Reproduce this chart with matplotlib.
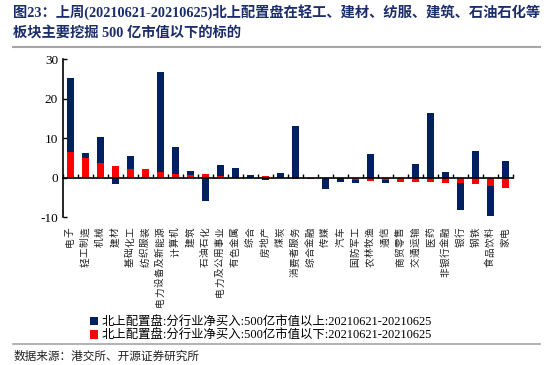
import numpy as np
import matplotlib.pyplot as plt
from matplotlib.lines import Line2D
from matplotlib.patches import Patch

CJK = ['Liberation Serif', 'Noto Sans CJK SC']

cats = ['电子', '轻工制造', '机械', '建材', '基础化工', '纺织服装', '电力设备及新能源',
        '计算机', '建筑', '石油石化', '电力及公用事业', '有色金属', '综合', '房地产',
        '煤炭', '消费者服务', '综合金融', '传媒', '汽车', '国防军工', '农林牧渔', '通信',
        '商贸零售', '交通运输', '医药', '非银行金融', '银行', '钢铁', '食品饮料', '家电']

# 500亿市值以下 (red)
small = [6.6, 5.1, 3.6, 3.0, 2.1, 2.2, 1.4, 0.9, 0.8, 0.9, 0.4, 0.0, 0.0, 0.3,
         0.0, -0.3, -0.3, 0.0, 0.0, -0.6, -0.9, -0.7, -1.2, -1.2, -1.2, -1.45,
         -1.4, -1.7, -2.0, -2.6]
# 500亿市值以上 (navy)
big = [18.7, 1.1, 6.8, -1.7, 3.5, 0.1, 25.4, 6.8, 0.8, -5.9, 2.8, 2.4, 0.7, -0.5,
       1.1, 13.2, 0.0, -2.9, -1.2, -0.8, 6.0, -0.6, 0.0, 3.4, 16.4, 1.4,
       -6.7, 6.8, -7.7, 4.1]

legend_labels = ['北上配置盘:分行业净买入:500亿市值以上:20210621-20210625',
                 '北上配置盘:分行业净买入:500亿市值以下:20210621-20210625']
title1 = '图23：上周(20210621-20210625)北上配置盘在轻工、建材、纺服、建筑、石油石化等'
title2 = '板块主要挖掘 500 亿市值以下的标的'
source = '数据来源：港交所、开源证券研究所'

navy = '#002060'
red = '#FF0000'

small = np.array(small)
big = np.array(big)
x = np.arange(len(cats))

# stack like excel: positives and negatives stacked separately
bottom_big = np.where(np.sign(big) == np.sign(small), small, 0.0)

fig = plt.figure(figsize=(5.5, 3.65), dpi=100)
ax = fig.add_axes([0.1145, 0.405, 0.8185, 0.433])

ax.bar(x, small, width=0.5, color=red, zorder=2)
ax.bar(x, big, width=0.5, bottom=bottom_big, color=navy, zorder=2)

ax.set_xlim(-0.5, len(cats) - 0.5)
ax.set_ylim(-10, 30)
ax.set_yticks([-10, 0, 10, 20, 30])
ax.set_yticklabels(['-10', '0', '10', '20', '30'], family='Liberation Serif', fontsize=9.5)
ax.tick_params(axis='y', direction='in', length=3, width=1)

for s in ['top', 'right']:
    ax.spines[s].set_visible(False)
ax.spines['left'].set_linewidth(1.2)
ax.spines['bottom'].set_position(('data', 0))
ax.spines['bottom'].set_linewidth(1.2)
ax.set_xticks(np.arange(-0.5, len(cats), 1.0))
ax.set_xticklabels([])
ax.tick_params(axis='x', direction='in', length=3, width=1)

# category labels: rotated, read bottom-to-top, with wide character spacing
step = 7.3  # points per character
for i, c in enumerate(cats):
    for k, ch in enumerate(reversed(c)):
        ax.annotate(ch, xy=(i, 0), xycoords=ax.get_xaxis_transform(),
                    xytext=(0, -7 - k * step), textcoords='offset points',
                    rotation=90, ha='center', va='top', fontsize=6.9,
                    family='Noto Sans CJK SC', color='#222222')

handles = [Patch(facecolor=navy), Patch(facecolor=red)]
fig.legend(handles, legend_labels, loc='upper left', bbox_to_anchor=(0.163, 0.133),
           frameon=False, prop={'family': CJK, 'size': 8.9}, handlelength=0.65,
           handleheight=0.65, handletextpad=0.3, labelspacing=0.1,
           borderpad=0, borderaxespad=0)

fig.text(0.024, 0.966, title1, ha='left', va='center', fontsize=10.3, fontweight='bold',
         family=CJK, color='#1C2D6B')
fig.text(0.024, 0.91, title2, ha='left', va='center', fontsize=10.3, fontweight='bold',
         family=CJK, color='#1C2D6B')
fig.add_artist(Line2D([0.024, 0.982], [0.871, 0.871], color='#A6A6A6', lw=1.5))
fig.add_artist(Line2D([0.024, 0.982], [0.058, 0.058], color='#A6A6A6', lw=1.2))
fig.text(0.024, 0.025, source, ha='left', va='center', fontsize=8.4,
         family='Noto Sans CJK SC', color='#222222')

fig.savefig('out.png', dpi=100)
